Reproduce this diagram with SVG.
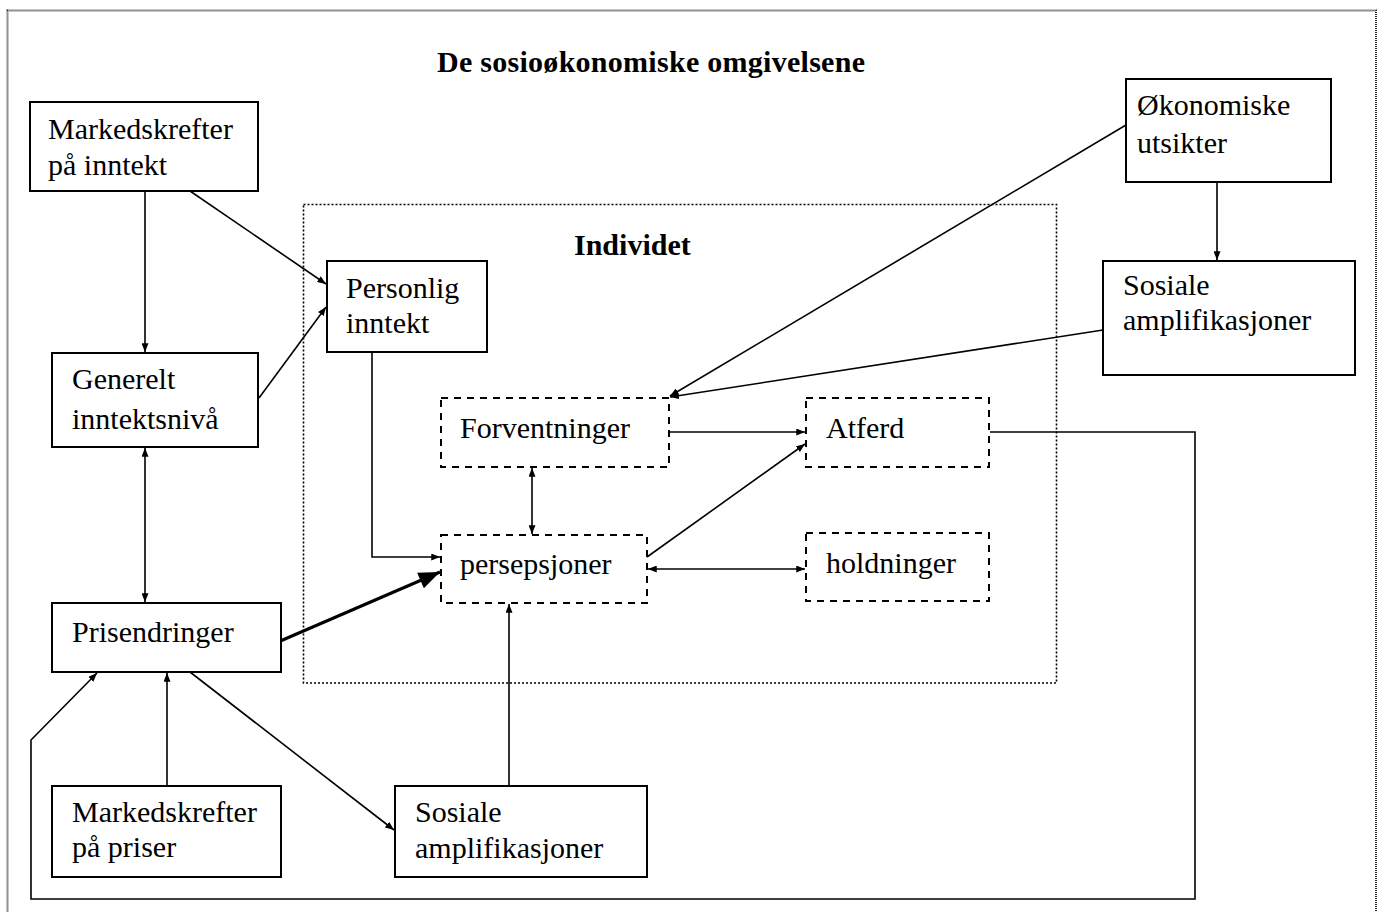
<svg xmlns="http://www.w3.org/2000/svg" width="1382" height="912" viewBox="0 0 1382 912">
<style>
text{font-family:"Liberation Serif","Times New Roman",serif;font-size:30px;fill:#000}
.b{font-weight:bold}
.box{fill:#fff;stroke:#000;stroke-width:2}
.dash{fill:#fff;stroke:#000;stroke-width:2;stroke-dasharray:7 6}
.ln{fill:none;stroke:#000;stroke-width:1.6}
</style>
<defs>
<marker id="a" viewBox="0 0 10 8" refX="10" refY="4" markerWidth="9" markerHeight="7" markerUnits="userSpaceOnUse" orient="auto-start-reverse"><path d="M0,0L10,4L0,8z" fill="#000"/></marker>
<marker id="big" viewBox="0 0 10 8" refX="10" refY="4" markerWidth="22" markerHeight="17" markerUnits="userSpaceOnUse" orient="auto"><path d="M0,0L10,4L0,8z" fill="#000"/></marker>
</defs>
<rect width="1382" height="912" fill="#fff"/>
<rect id="outer" x="7.5" y="10.5" width="1368.5" height="905" fill="none" stroke="#222" stroke-width="2" stroke-dasharray="1 1"/>
<text class="b" x="437" y="72" textLength="428">De sosioøkonomiske omgivelsene</text>
<g id="individet">
<rect x="303.5" y="204.5" width="753" height="478.5" fill="none" stroke="#000" stroke-width="1.6" stroke-dasharray="2 2"/>
<text class="b" x="574" y="255">Individet</text>
</g>
<g id="connectors">
<line class="ln" x1="145" y1="191" x2="145" y2="352" marker-end="url(#a)"/>
<line class="ln" x1="190" y1="191" x2="326" y2="284" marker-end="url(#a)"/>
<line class="ln" x1="259" y1="398" x2="326" y2="307" marker-end="url(#a)"/>
<line class="ln" x1="145" y1="448" x2="145" y2="602" marker-start="url(#a)" marker-end="url(#a)"/>
<polyline class="ln" points="372,352 372,557 440,557" marker-end="url(#a)"/>
<line x1="278" y1="642" x2="440" y2="572" stroke="#000" stroke-width="3" marker-end="url(#big)"/>
<line class="ln" x1="167" y1="786" x2="167" y2="673" marker-end="url(#a)"/>
<line class="ln" x1="190" y1="672" x2="394" y2="830" marker-end="url(#a)"/>
<line class="ln" x1="509" y1="786" x2="509" y2="604" marker-end="url(#a)"/>
<line class="ln" x1="532" y1="468" x2="532" y2="534" marker-start="url(#a)" marker-end="url(#a)"/>
<line class="ln" x1="670" y1="432" x2="805" y2="432" marker-end="url(#a)"/>
<line class="ln" x1="647" y1="557" x2="805" y2="444" marker-end="url(#a)"/>
<line class="ln" x1="648" y1="569" x2="805" y2="569" marker-start="url(#a)" marker-end="url(#a)"/>
<line class="ln" x1="1126" y1="125" x2="670" y2="396" marker-end="url(#a)"/>
<line class="ln" x1="1103" y1="330" x2="670" y2="397" marker-end="url(#a)"/>
<line class="ln" x1="1217" y1="182" x2="1217" y2="260" marker-end="url(#a)"/>
<polyline class="ln" points="990,432 1195,432 1195,899 31,899 31,740 97,673" marker-end="url(#a)"/>
</g>
<g id="n-markedskrefter-inntekt">
<rect class="box" x="30" y="102" width="228" height="89"/>
<text x="48" y="139">Markedskrefter</text>
<text x="48" y="175">på inntekt</text>
</g>
<g id="n-generelt">
<rect class="box" x="52" y="353" width="206" height="94"/>
<text x="72" y="389">Generelt</text>
<text x="72" y="429">inntektsnivå</text>
</g>
<g id="n-prisendringer">
<rect class="box" x="52" y="603" width="229" height="69"/>
<text x="72" y="642">Prisendringer</text>
</g>
<g id="n-markedskrefter-priser">
<rect class="box" x="52" y="786" width="229" height="91"/>
<text x="72" y="822">Markedskrefter</text>
<text x="72" y="857">på priser</text>
</g>
<g id="n-sosiale-bunn">
<rect class="box" x="395" y="786" width="252" height="91"/>
<text x="415" y="822">Sosiale</text>
<text x="415" y="858">amplifikasjoner</text>
</g>
<g id="n-personlig">
<rect class="box" x="327" y="261" width="160" height="91"/>
<text x="346" y="298">Personlig</text>
<text x="346" y="333">inntekt</text>
</g>
<g id="n-forventninger">
<rect class="dash" x="441" y="398" width="228" height="69"/>
<text x="460" y="438">Forventninger</text>
</g>
<g id="n-persepsjoner">
<rect class="dash" x="441" y="535" width="206" height="68"/>
<text x="460" y="574">persepsjoner</text>
</g>
<g id="n-atferd">
<rect class="dash" x="806" y="398" width="183" height="69"/>
<text x="826" y="438">Atferd</text>
</g>
<g id="n-holdninger">
<rect class="dash" x="806" y="533" width="183" height="68"/>
<text x="826" y="573">holdninger</text>
</g>
<g id="n-okonomiske">
<rect class="box" x="1126" y="79" width="205" height="103"/>
<text x="1137" y="115">Økonomiske</text>
<text x="1137" y="153">utsikter</text>
</g>
<g id="n-sosiale-topp">
<rect class="box" x="1103" y="261" width="252" height="114"/>
<text x="1123" y="295">Sosiale</text>
<text x="1123" y="330">amplifikasjoner</text>
</g>
</svg>
